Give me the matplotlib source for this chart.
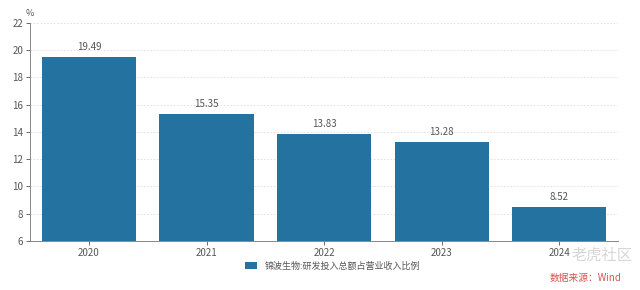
import matplotlib.pyplot as plt
import numpy as np
from matplotlib.patches import Patch

plt.rcParams["font.family"] = ["Noto Sans CJK SC", "DejaVu Sans"]

years = ["2020", "2021", "2022", "2023", "2024"]
ratio = [19.49, 15.35, 13.83, 13.28, 8.52]
series_name = "锦波生物:研发投入总额占营业收入比例"
bar_color = "#23729f"

fig = plt.figure(figsize=(6.4, 2.9), dpi=100)
ax = fig.add_axes([0.047, 0.169, 0.919, 0.752])

x = np.arange(len(years))
bars = ax.bar(x, ratio, width=0.8, bottom=0, color=bar_color, zorder=2)

for xi, v in zip(x, ratio):
    ax.text(xi, v + 0.35, f"{v:.2f}", ha="center", va="bottom", fontsize=7, color="#555555")

ax.set_ylim(6, 22)
ax.set_xlim(-0.5, len(years) - 0.5)
ax.set_yticks(range(6, 23, 2))
ax.set_xticks(x)
ax.set_xticklabels(years)
ax.tick_params(axis="both", labelsize=7, colors="#555555", length=3, width=0.6)
ax.tick_params(axis="y", pad=2)
ax.tick_params(axis="x", pad=2)

ax.grid(axis="y", color="#dddddd", linestyle=(0, (2, 2)), linewidth=0.6, zorder=0)
ax.spines["top"].set_visible(False)
ax.spines["right"].set_visible(False)
for s in ("left", "bottom"):
    ax.spines[s].set_color("#888888")
    ax.spines[s].set_linewidth(0.7)

fig.text(0.047, 0.955, "%", ha="center", va="center", fontsize=6.5, color="#555555")

ax.legend(handles=[Patch(facecolor=bar_color, label=series_name)], loc="center",
          bbox_to_anchor=(0.514, -0.114), frameon=False, fontsize=6.5, handlelength=1.4,
          handleheight=0.8, labelcolor="#555555")

# watermark and source note
fig.text(0.94, 0.12, "老虎社区", ha="center", va="center", fontsize=11, color="#cccccc", alpha=0.8)
fig.text(0.915, 0.04, "数据来源：Wind", ha="center", va="center", fontsize=7, color="#d9534f")

fig.savefig("out.png", dpi=100)
